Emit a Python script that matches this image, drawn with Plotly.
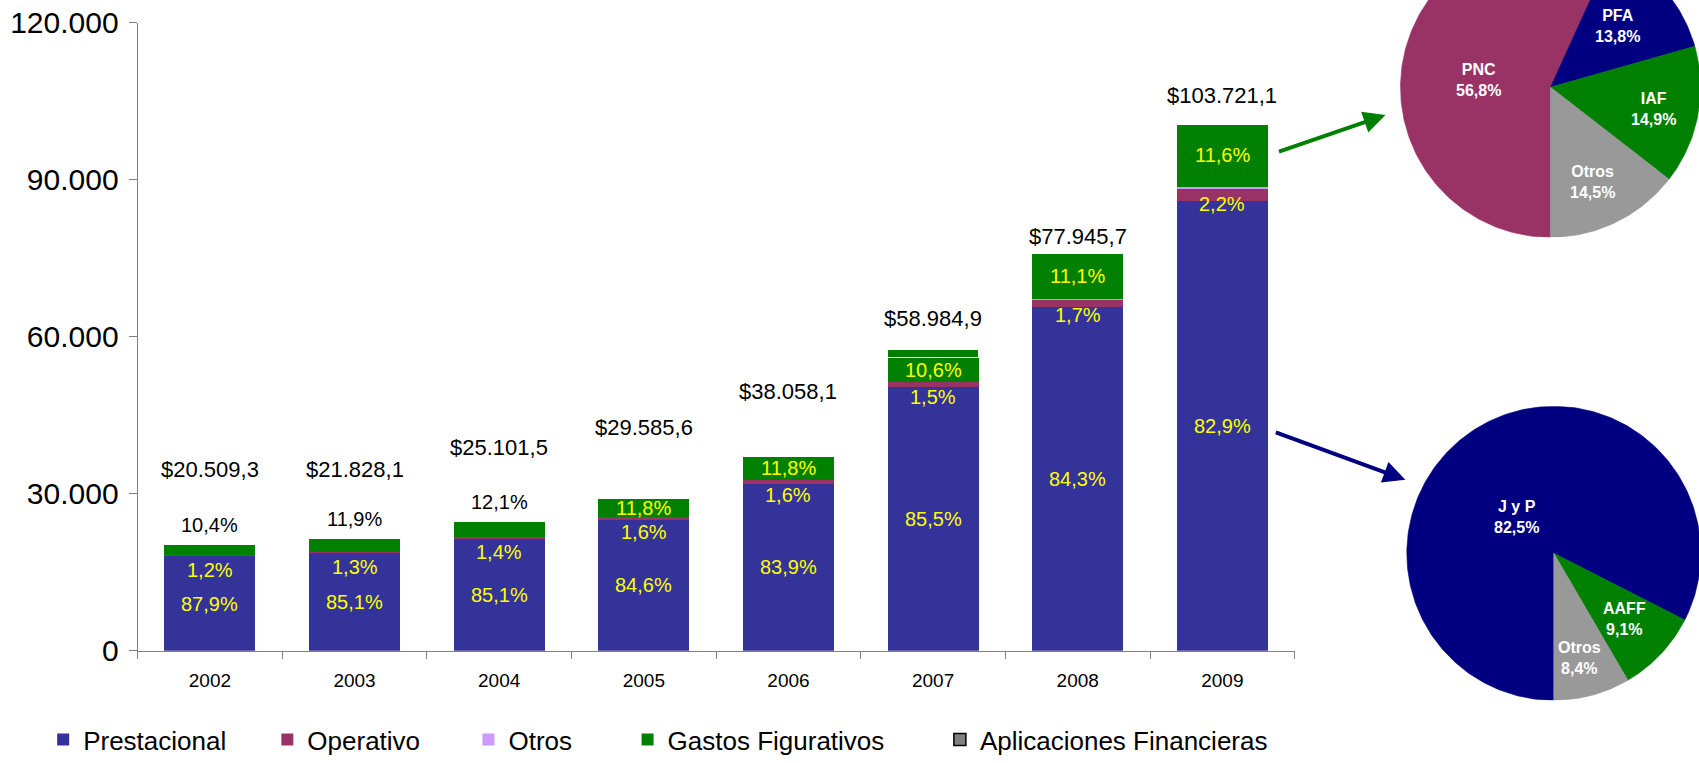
import math
import plotly.graph_objects as go

# ---------------- data (millions of $) ----------------
years = ["2002", "2003", "2004", "2005", "2006", "2007", "2008", "2009"]
totals = [20509.3, 21828.1, 25101.5, 29585.6, 38058.1, 58984.9, 77945.7, 103721.1]
prestacional = [18027.7, 18575.7, 21361.4, 25029.4, 31930.7, 50432.1, 65708.2, 85984.8]
operativo = [246.1, 283.8, 351.4, 473.4, 608.9, 884.8, 1325.1, 2281.9]
otros = [30, 30, 40, 50, 80, 60, 250, 380]
gastos_figurativos = [2133.0, 2597.5, 3037.3, 3491.1, 4490.9, 4630.0, 8652.0, 12031.6]
gastos_fig_banda_sup = [0, 0, 0, 0, 0, 1620.0, 0, 0]   # upper green band (2007)
aplicaciones_financieras = [None] * 8                   # not visible in the chart

pct_prestacional = [87.9, 85.1, 85.1, 84.6, 83.9, 85.5, 84.3, 82.9]
pct_operativo = [1.2, 1.3, 1.4, 1.6, 1.6, 1.5, 1.7, 2.2]
pct_gastos = [10.4, 11.9, 12.1, 11.8, 11.8, 10.6, 11.1, 11.6]

y_ticks = [0, 30000, 60000, 90000, 120000]

pie1_labels = ["PNC", "PFA", "IAF", "Otros"]
pie1_values = [56.8, 13.8, 14.9, 14.5]
pie2_labels = ["J y P", "AAFF", "Otros"]
pie2_values = [82.5, 9.1, 8.4]

# ---------------- style / layout ----------------
W, H = 1699, 763
FONT = "Liberation Sans, Arial, sans-serif"
C_PREST, C_OPER, C_OTROS, C_GASTOS, C_APLIC = "#333399", "#993366", "#CC99FF", "#008000", "#808080"
C_NAVY, C_GRAY = "#000080", "#999999"
AXIS_GRAY = "#808080"
NBSP = "\u00a0"

# bar plot area in px
BX0, BX1 = 137.6, 1294.7
BY0, BY1 = 650.7, 22.75        # pixel y of 0 and of 120000
# pies: centre (px) and radius (px)
P1 = dict(cx=1550.5, cy=87.3, r=150.0)
P2 = dict(cx=1553.8, cy=553.3, r=147.0)
PIE_LEFT = 1.25                 # hidden pie axes extend this many radii to the left

total_label_lift = [74, 67, 72, 68, 60, 24, 6, 12]       # px above total value
gastos_outside = [True, True, True, False, False, False, False, False]
# pie label placement: radial fraction and angular nudge (deg) from slice mid-angle
pie1_label_frac = [0.485, 0.61, 0.70, 0.69]
pie1_label_turn = [-6.3, -1.8, 1.0, 2.0]
pie2_label_frac = [0.356, 0.66, 0.735]
pie2_label_turn = [-14.4, -0.5, 1.5]
legend_pad = [NBSP * 5, NBSP * 6, NBSP * 7, NBSP * 7, ""]


def fmt_money(v):
    s = f"{v:,.1f}"
    return "$" + s.replace(",", "X").replace(".", ",").replace("X", ".")


def fmt_pct(v):
    return f"{v:.1f}".replace(".", ",") + "%"


fig = go.Figure()

bar_common = dict(x=years, xaxis="x", yaxis="y", hoverinfo="skip")
fig.add_trace(go.Bar(name="Prestacional" + legend_pad[0], y=prestacional,
                     marker=dict(color=C_PREST, line=dict(width=0)), **bar_common))
fig.add_trace(go.Bar(name="Operativo" + legend_pad[1], y=operativo,
                     marker=dict(color=C_OPER, line=dict(width=0)), **bar_common))
fig.add_trace(go.Bar(name="Otros" + legend_pad[2], y=otros,
                     marker=dict(color=C_OTROS, line=dict(width=0)), **bar_common))
fig.add_trace(go.Bar(name="Gastos Figurativos" + legend_pad[3], y=gastos_figurativos, legendgroup="gf",
                     marker=dict(color=C_GASTOS, line=dict(width=0)), **bar_common))
fig.add_trace(go.Bar(name="Gastos Figurativos", y=gastos_fig_banda_sup, legendgroup="gf", showlegend=False,
                     marker=dict(color=C_GASTOS, line=dict(width=1.5, color="white")), **bar_common))
fig.add_trace(go.Bar(name="Aplicaciones Financieras" + legend_pad[4], y=aplicaciones_financieras,
                     marker=dict(color=C_APLIC, line=dict(width=1.5, color="black")), **bar_common))

annotations = []
lab_font = dict(family=FONT, size=20, color="#FFFF00")
for i, yr in enumerate(years):
    p = prestacional[i]
    o = operativo[i]
    base_g = p + o + otros[i]
    top = base_g + gastos_figurativos[i] + gastos_fig_banda_sup[i]
    annotations.append(dict(x=i, y=p / 2, xref="x", yref="y", text=fmt_pct(pct_prestacional[i]),
                            showarrow=False, font=lab_font))
    annotations.append(dict(x=i, y=p + o, xref="x", yref="y", text=fmt_pct(pct_operativo[i]),
                            showarrow=False, font=lab_font, yshift=-15))
    if gastos_outside[i]:
        annotations.append(dict(x=i, y=top, xref="x", yref="y", text=fmt_pct(pct_gastos[i]),
                                showarrow=False, font=dict(family=FONT, size=20, color="black"), yshift=19))
    else:
        annotations.append(dict(x=i, y=base_g + gastos_figurativos[i] / 2, xref="x", yref="y",
                                text=fmt_pct(pct_gastos[i]), showarrow=False, font=lab_font))
    annotations.append(dict(x=i, y=totals[i], xref="x", yref="y", text=fmt_money(totals[i]),
                            showarrow=False, font=dict(family=FONT, size=22, color="black"),
                            yshift=total_label_lift[i]))


# ---------------- pies drawn as filled wedges on hidden axes ----------------
def wedges(values, colors, xa, ya, start=180.0):
    tot = sum(values)
    ang = start
    mids = []
    for v, c in zip(values, colors):
        span = 360.0 * v / tot
        n = max(2, int(span) + 1)
        xs, ys = [0.0], [0.0]
        for k in range(n + 1):
            t = math.radians(ang + span * k / n)
            xs.append(math.sin(t))
            ys.append(math.cos(t))
        xs.append(0.0)
        ys.append(0.0)
        fig.add_trace(go.Scatter(x=xs, y=ys, xaxis=xa, yaxis=ya, mode="lines", fill="toself",
                                 fillcolor=c, line=dict(width=0.6, color=c), hoverinfo="skip",
                                 showlegend=False))
        mids.append(ang + span / 2)
        ang += span
    return mids


mids1 = wedges(pie1_values, [C_OPER, C_NAVY, C_GASTOS, C_GRAY], "x2", "y2")
mids2 = wedges(pie2_values, [C_NAVY, C_GASTOS, C_GRAY], "x3", "y3")
pie_font = dict(family=FONT, size=16, color="white")


def pie_labels(labels, values, mids, fracs, turns, xa, ya):
    for lab, v, m, f, d in zip(labels, values, mids, fracs, turns):
        t = math.radians(m + d)
        annotations.append(dict(x=f * math.sin(t), y=f * math.cos(t), xref=xa, yref=ya,
                                text=f"<b>{lab}<br>{fmt_pct(v)}</b>", showarrow=False, font=pie_font))


pie_labels(pie1_labels, pie1_values, mids1, pie1_label_frac, pie1_label_turn, "x2", "y2")
pie_labels(pie2_labels, pie2_values, mids2, pie2_label_frac, pie2_label_turn, "x3", "y3")

# arrows from the 2009 bar to the pies (head in pie units, tail as pixel offset)
annotations.append(dict(x=-1.1, y=-0.185, xref="x2", yref="y2", ax=-108, ay=37, axref="pixel", ayref="pixel",
                        text="", showarrow=True, arrowhead=2, arrowsize=1.1, arrowwidth=4, arrowcolor=C_GASTOS))
annotations.append(dict(x=-1.01, y=0.5, xref="x3", yref="y3", ax=-131, ay=-48, axref="pixel", ayref="pixel",
                        text="", showarrow=True, arrowhead=2, arrowsize=1.1, arrowwidth=4, arrowcolor=C_NAVY))


def pie_axes(p):
    x0 = p["cx"] - PIE_LEFT * p["r"]
    x1 = min(W, p["cx"] + p["r"])
    ytop = max(0.0, p["cy"] - p["r"])
    ybot = p["cy"] + p["r"]
    xd = [x0 / W, x1 / W]
    yd = [(H - ybot) / H, (H - ytop) / H]
    xr = [-PIE_LEFT, (x1 - p["cx"]) / p["r"]]
    yr = [-1.0, (p["cy"] - ytop) / p["r"]]
    ax = dict(visible=False, fixedrange=True, showgrid=False, zeroline=False)
    return dict(domain=xd, range=xr, **ax), dict(domain=yd, range=yr, **ax)


xa2, ya2 = pie_axes(P1)
xa3, ya3 = pie_axes(P2)
xa2["anchor"] = "y2"; ya2["anchor"] = "x2"
xa3["anchor"] = "y3"; ya3["anchor"] = "x3"

ymax = y_ticks[-1]
fig.update_layout(
    width=W, height=H, template="none",
    margin=dict(l=0, r=0, t=0, b=0, autoexpand=False),
    paper_bgcolor="white", plot_bgcolor="rgba(0,0,0,0)",
    barmode="stack", bargap=0.37,
    font=dict(family=FONT, color="black"),
    hovermode=False,
    xaxis=dict(domain=[BX0 / W, BX1 / W], anchor="y", type="category", range=[-0.5, len(years) - 0.5],
               showline=True, linecolor=AXIS_GRAY, linewidth=1, ticks="outside", tickson="boundaries",
               ticklen=7, tickcolor=AXIS_GRAY, showgrid=False, zeroline=False, automargin=False,
               ticklabelstandoff=12,
               tickfont=dict(family=FONT, size=19, color="black"), fixedrange=True),
    yaxis=dict(domain=[(H - BY0) / H, (H - BY1) / H], anchor="x", range=[0, ymax],
               tickvals=y_ticks, ticktext=[f"{v:,}".replace(",", ".") for v in y_ticks],
               showline=True, linecolor=AXIS_GRAY, linewidth=1, ticks="outside", ticklen=8,
               tickcolor=AXIS_GRAY, showgrid=False, zeroline=False, automargin=False,
               ticklabelstandoff=4,
               tickfont=dict(family=FONT, size=30, color="black"), fixedrange=True),
    xaxis2=xa2, yaxis2=ya2, xaxis3=xa3, yaxis3=ya3,
    showlegend=True,
    legend=dict(orientation="h", x=0.0254, y=0.0, xanchor="left", yanchor="bottom",
                font=dict(family=FONT, size=26, color="black"), traceorder="normal",
                bgcolor="rgba(0,0,0,0)", itemclick=False, itemdoubleclick=False),
    annotations=annotations,
)

fig.write_html("out.html", config={"displayModeBar": False, "staticPlot": True},
               post_script="document.body.style.margin='0';document.body.style.overflow='hidden';")
